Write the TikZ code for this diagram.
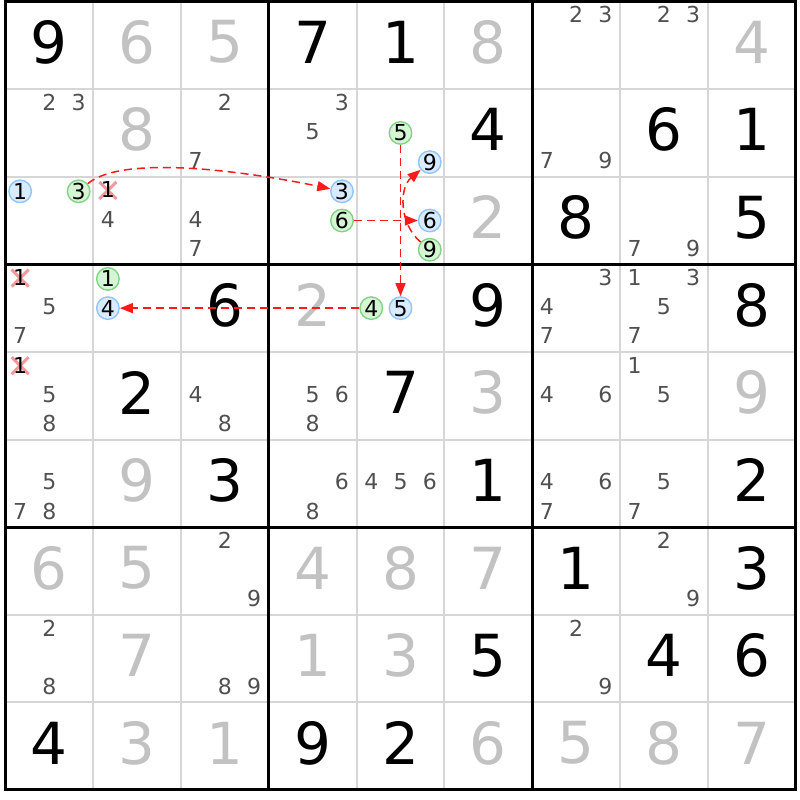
\documentclass[tikz,border=0pt]{standalone}
\usepackage{fontspec}
\setmainfont{DejaVu Sans}
\usetikzlibrary{arrows.meta,shapes.misc}
\definecolor{givengray}{HTML}{C2C2C2}
\definecolor{candgray}{HTML}{505050}
\definecolor{gridgray}{HTML}{D6D6D6}
\definecolor{bluefill}{HTML}{D8EBFF}
\definecolor{blueline}{HTML}{90C6FF}
\definecolor{greenfill}{HTML}{D6F5D6}
\definecolor{greenline}{HTML}{82D482}
\definecolor{linkred}{HTML}{FF1A1A}
\definecolor{xpink}{HTML}{F29A9A}
\tikzset{thinline/.style = {draw=gridgray, line width=2pt}}
\tikzset{thickline/.style = {draw=black, line width=3pt}}
\tikzset{given/.style = {font=\fontsize{58}{58}\selectfont, text=givengray, inner sep=0pt}}
\tikzset{solved/.style = {font=\fontsize{58}{58}\selectfont, text=black, inner sep=0pt}}
\tikzset{cand/.style = {font=\fontsize{22}{22}\selectfont, text=candgray, inner sep=0pt}}
\tikzset{bluecand/.style = {cand, text=black, shape=circle, draw=blueline, fill=bluefill, line width=1.4pt, minimum size=22.5pt}}
\tikzset{greencand/.style = {cand, text=black, shape=circle, draw=greenline, fill=greenfill, line width=1.4pt, minimum size=22.5pt}}
\tikzset{strike/.style = {cross out, draw=xpink, line width=3pt, minimum size=14pt, inner sep=0pt}}
\tikzset{link/.style = {color=linkred, line width=1.5pt, dash pattern=on 8pt off 5pt, -{Triangle[length=13pt,width=10pt]}}}

\begin{document}
\begin{tikzpicture}[x=87.78pt, y=-87.61pt]
  \fill[white] (-5.5pt,1.5pt) rectangle (794.5pt,-798.5pt);
  \useasboundingbox (-5.5pt,1.5pt) rectangle (794.5pt,-798.5pt);

  % grid
  \foreach \i in {1,2,4,5,7,8} {
    \draw[thinline] (\i,0) -- (\i,9);
    \draw[thinline] (0,\i) -- (9,\i);
  }
  \foreach \i in {3,6} {
    \draw[thickline] (\i,0) -- (\i,9);
    \draw[thickline] (0,\i) -- (9,\i);
  }
  \draw[thickline] (0,0) rectangle (9,9);

  % digits
  \foreach \c/\r/\d in {1/0/6, 2/0/5, 5/0/8, 8/0/4, 1/1/8, 5/2/2, 3/3/2, 5/4/3, 8/4/9, 1/5/9,
      0/6/6, 1/6/5, 3/6/4, 4/6/8, 5/6/7, 1/7/7, 3/7/1, 4/7/3,
      1/8/3, 2/8/1, 5/8/6, 6/8/5, 7/8/8, 8/8/7}
    \node[given] (cell-\c-\r) at (\c+.5,\r+.465) {\d};
  \foreach \c/\r/\d in {0/0/9, 3/0/7, 4/0/1, 5/1/4, 7/1/6, 8/1/1, 6/2/8, 8/2/5,
      2/3/6, 5/3/9, 8/3/8, 1/4/2, 4/4/7, 2/5/3, 5/5/1, 8/5/2,
      6/6/1, 8/6/3, 5/7/5, 7/7/4, 8/7/6, 0/8/4, 3/8/9, 4/8/2}
    \node[solved] (cell-\c-\r) at (\c+.5,\r+.465) {\d};

  % candidates
  \foreach \c/\r/\ks in {6/0/{2,3}, 7/0/{2,3}, 0/1/{2,3}, 2/1/{2,7}, 3/1/{3,5}, 6/1/{7,9},
      1/2/{4}, 2/2/{4,7}, 7/2/{7,9}, 0/3/{5,7}, 6/3/{3,4,7}, 7/3/{1,3,5,7},
      0/4/{5,8}, 2/4/{4,8}, 3/4/{5,6,8}, 6/4/{4,6}, 7/4/{1,5},
      0/5/{5,7,8}, 3/5/{6,8}, 4/5/{4,5,6}, 6/5/{4,6,7}, 7/5/{5,7},
      2/6/{2,9}, 7/6/{2,9}, 0/7/{2,8}, 2/7/{8,9}, 6/7/{2,9}}
    \foreach \k in \ks
      \node[cand] (cand-\c-\r-\k) at ({\c+(mod(\k-1,3)+.5)/3},{\r+(int((\k-1)/3)+.5)/3-.017}) {\k};

  % struck candidates
  \foreach \c/\r in {1/2, 0/3, 0/4} {
    \node[strike] (cross-\c-\r) at ({\c+1/6},{\r+1/6-.01}) {};
    \node[cand, text=black] (cand-\c-\r-1) at ({\c+1/6},{\r+1/6-.017}) {1};
  }

  % chain
  \foreach \c/\r/\k in {0/2/1, 3/2/3, 4/2/6, 4/1/9, 4/3/5, 1/3/4}
    \node[bluecand] (blue-\c-\r-\k) at ({\c+(mod(\k-1,3)+.5)/3},{\r+(int((\k-1)/3)+.5)/3}) {\k};
  \foreach \c/\r/\k in {0/2/3, 3/2/6, 4/2/9, 4/1/5, 4/3/4, 1/3/1}
    \node[greencand] (green-\c-\r-\k) at ({\c+(mod(\k-1,3)+.5)/3},{\r+(int((\k-1)/3)+.5)/3}) {\k};

  \path[link] (green-0-2-3) edge[out=40, in=168, looseness=0.55] (blue-3-2-3);
  \path[link] (green-3-2-6) edge (blue-4-2-6);
  \path[link] (green-4-2-9) edge[bend left=50] (blue-4-1-9);
  \path[link] (green-4-1-5) edge (blue-4-3-5);
  \path[link] (green-4-3-4) edge (blue-1-3-4);
\end{tikzpicture}
\end{document}
